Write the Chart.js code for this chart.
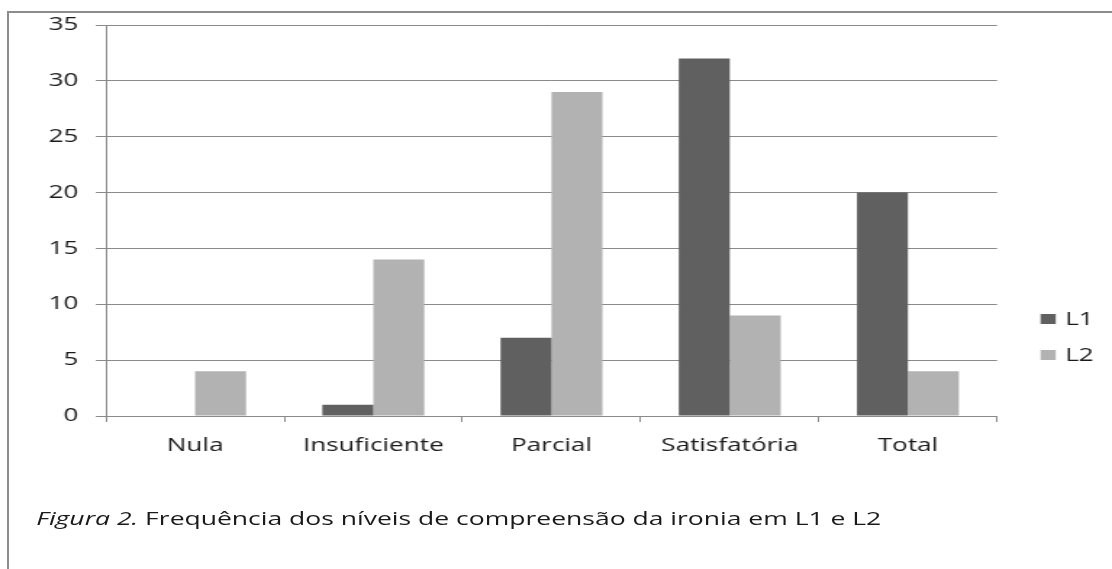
<!DOCTYPE html>
<html>
<head>
<meta charset="utf-8">
<script src="https://cdn.jsdelivr.net/npm/chart.js@4.4.1/dist/chart.umd.min.js"></script>
<style>
  body { margin: 0; background: #fff; width: 1112px; height: 569px; overflow: hidden; position: relative; font-family: "Open Sans", sans-serif; }
  #frame { position: absolute; left: 7px; top: 11px; right: 0; bottom: 0; border-left: 2px solid #8c8c8c; border-top: 2px solid #8c8c8c; }
  /* the original picture is stretched sideways, so draw narrow and widen */
  #stretch { position: absolute; left: 0; top: 0; width: 767px; height: 569px; transform: scaleX(1.4498); transform-origin: 0 0; }
  #wrap { position: absolute; left: 0; top: 0; width: 767px; height: 480px; }
  #caption { position: absolute; left: 25px; top: 507px; font-size: 18.3px; line-height: 22px; color: #1a1a1a; white-space: nowrap; }
</style>
</head>
<body>
<div id="frame"></div>
<div id="stretch">
  <div id="wrap"><canvas id="chart"></canvas></div>
  <div id="caption"><i>Figura 2.</i> Frequência dos níveis de compreensão da ironia em L1 e L2</div>
</div>
<script>
var categories = ['Nula', 'Insuficiente', 'Parcial', 'Satisfatória', 'Total'];
var seriesNames = ['L1', 'L2'];
var seriesL1 = [0, 1, 7, 32, 20];
var seriesL2 = [4, 14, 29, 9, 4];
var yMax = 35;
var yStep = 5;

var colors = ['#606060', '#b2b2b2'];
var lineColor = '#8a8a8a';
var textColor = '#1a1a1a';

Chart.defaults.font.family = '"Open Sans", sans-serif';
Chart.defaults.color = textColor;

// legend drawn at the right, lower half, like the original
var sideLegend = {
  id: 'sideLegend',
  afterDraw: function(chart) {
    var ctx = chart.ctx;
    var area = chart.chartArea;
    ctx.save();
    ctx.font = '18px "Open Sans", sans-serif';
    ctx.textBaseline = 'middle';
    chart.data.datasets.forEach(function(ds, i) {
      var y = 319 + i * 36;
      var x = area.right + 30;
      ctx.fillStyle = ds.backgroundColor;
      ctx.fillRect(x, y - 5, 10.5, 10);
      ctx.fillStyle = textColor;
      ctx.fillText(ds.label, x + 17, y + 1);
    });
    ctx.restore();
  }
};

var chart = new Chart(document.getElementById('chart'), {
  type: 'bar',
  data: {
    labels: categories,
    datasets: [
      { label: seriesNames[0], data: seriesL1, backgroundColor: colors[0] },
      { label: seriesNames[1], data: seriesL2, backgroundColor: colors[1] }
    ]
  },
  options: {
    responsive: true,
    maintainAspectRatio: false,
    animation: false,
    categoryPercentage: 0.572,
    barPercentage: 1,
    layout: { padding: { left: 0, top: 25, right: 79.3, bottom: 0 } },
    plugins: {
      legend: { display: false },
      tooltip: { enabled: false }
    },
    scales: {
      x: {
        grid: { drawOnChartArea: false, drawTicks: true, tickLength: 6, color: lineColor, offset: true },
        border: { display: true, color: lineColor },
        ticks: { padding: 13, font: { size: 18 }, color: textColor, maxRotation: 0 },
        afterFit: function(scale) { scale.height = 64; }
      },
      y: {
        min: 0,
        max: yMax,
        ticks: { stepSize: yStep, padding: 12, font: { size: 18 }, color: textColor },
        grid: { color: lineColor, tickLength: 7 },
        border: { display: true, color: lineColor },
        afterFit: function(scale) { scale.width = 73.1; }
      }
    }
  },
  plugins: [sideLegend]
});
</script>
</body>
</html>
